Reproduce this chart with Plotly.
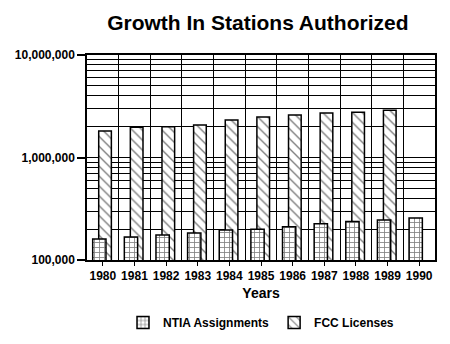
import plotly.graph_objects as go

years = [1980, 1981, 1982, 1983, 1984, 1985, 1986, 1987, 1988, 1989, 1990]
ntia = [160000, 168000, 175000, 183000, 196000, 199000, 211000, 226000, 237000, 245000, 257000]
fcc_years = [1980, 1981, 1982, 1983, 1984, 1985, 1986, 1987, 1988, 1989]
fcc = [1810000, 1970000, 2000000, 2070000, 2320000, 2480000, 2600000, 2720000, 2760000, 2890000]
y_tickvals = [100000, 1000000, 10000000]
y_ticktext = ["100,000", "1,000,000", "10,000,000"]
minor_vals = [m * d for d in (100000, 1000000) for m in range(2, 10)]

FONT = "Liberation Sans, Arial, sans-serif"

fig = go.Figure()
fig.add_trace(go.Bar(
    x=fcc_years, y=fcc, name="FCC Licenses",
    offset=-0.13, width=0.40,
    marker=dict(color="white", line=dict(color="black", width=1.5),
                pattern=dict(shape="\\", fgcolor="black", bgcolor="white", size=7, solidity=0.2)),
))
fig.add_trace(go.Bar(
    x=years, y=ntia, name="NTIA Assignments",
    offset=-0.32, width=0.42,
    marker=dict(color="white", line=dict(color="black", width=1.5),
                pattern=dict(shape="+", fgcolor="black", bgcolor="white", size=5, solidity=0.3)),
))

fig.update_layout(
    width=450, height=344,
    margin=dict(l=87, r=15, t=55, b=84, autoexpand=False),
    paper_bgcolor="white", plot_bgcolor="white",
    barmode="overlay",
    font=dict(family=FONT, color="black", size=12, weight="bold"),
    title=dict(text="Growth In Stations Authorized", x=0.573, xanchor="center",
               y=0.935, yanchor="middle",
               font=dict(family=FONT, size=21, weight="bold", color="black")),
    showlegend=True,
    legend=dict(orientation="h", x=0.5, xanchor="center", y=-0.305, yanchor="middle",
                traceorder="reversed", font=dict(size=12, weight="bold"),
                itemwidth=30, bgcolor="rgba(0,0,0,0)"),
    xaxis=dict(
        range=[1979.5, 1990.5], tickmode="array", tickvals=years,
        ticks="outside", ticklen=4, tickcolor="black", tickwidth=1,
        showgrid=False, showline=True, linecolor="black", linewidth=1.5, mirror=True,
        tickfont=dict(size=12, weight="bold"),
        minor=dict(tick0=1979.5, dtick=1, showgrid=True, gridcolor="black", gridwidth=1, ticklen=0),
        title=dict(text="Years", font=dict(size=14, weight="bold"), standoff=6),
        zeroline=False,
    ),
    yaxis=dict(
        type="log", range=[5, 7], tickmode="array", tickvals=y_tickvals, ticktext=y_ticktext,
        ticks="outside", ticklen=8, tickcolor="black", tickwidth=1.5,
        showgrid=True, gridcolor="black", gridwidth=1,
        showline=True, linecolor="black", linewidth=1.5, mirror=True,
        tickfont=dict(size=12, weight="bold"),
        minor=dict(tickmode="array", tickvals=minor_vals, showgrid=True, gridcolor="black",
                   gridwidth=1, ticklen=0),
        zeroline=False,
    ),
)

fig.write_html("out.html")
